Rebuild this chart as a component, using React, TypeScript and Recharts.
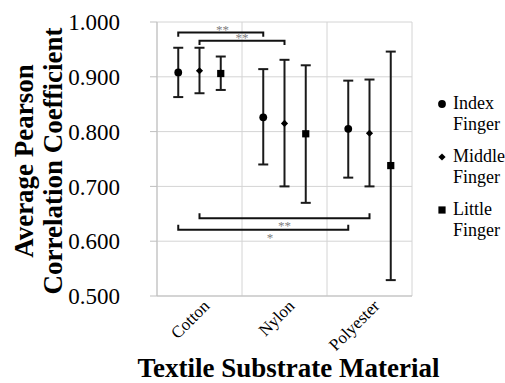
import { ScatterChart, Scatter, XAxis, YAxis, CartesianGrid, ErrorBar, Legend, Label } from 'recharts';

// ─── Data ─────────────────────────────────

const categories = ['Cotton', 'Nylon', 'Polyester'];
const fingers = ['Index Finger', 'Middle Finger', 'Little Finger'];

const indexMean = [0.908, 0.826, 0.805];
const indexLow = [0.863, 0.740, 0.716];
const indexHigh = [0.953, 0.914, 0.893];

const middleMean = [0.911, 0.815, 0.797];
const middleLow = [0.870, 0.700, 0.700];
const middleHigh = [0.953, 0.931, 0.895];

const littleMean = [0.906, 0.796, 0.738];
const littleLow = [0.876, 0.670, 0.529];
const littleHigh = [0.937, 0.921, 0.946];

const yTicks = [0.5, 0.6, 0.7, 0.8, 0.9, 1.0];

// significance brackets (x in category units, 0..3)
const bracketStart = [0.25, 0.5, 0.5, 0.25];
const bracketEnd = [1.25, 1.5, 2.5, 2.25];
const bracketLevel = [0.981, 0.966, 0.642, 0.621];
const bracketTip = [0.973, 0.958, 0.651, 0.63];
const starLabels = ['**', '**', '**', '*'];
const starX = [0.77, 1.0, 1.5, 1.33];
const starY = [0.991, 0.976, 0.634, 0.611];

// ─── Helpers ──────────────────────────────

const groupOffset = [-0.25, 0, 0.25];
const FONT = '"Liberation Serif", "Times New Roman", serif';

function buildSeries(f: number, mean: number[], low: number[], high: number[]) {
  return categories.map((_, i) => ({
    x: i + 0.5 + groupOffset[f],
    y: mean[i],
    err: [mean[i] - low[i], high[i] - mean[i]],
  }));
}

const series = [
  buildSeries(0, indexMean, indexLow, indexHigh),
  buildSeries(1, middleMean, middleLow, middleHigh),
  buildSeries(2, littleMean, littleLow, littleHigh),
];

const brackets = bracketStart.map((s, i) => [
  { x: s, y: bracketTip[i] },
  { x: s, y: bracketLevel[i] },
  { x: bracketEnd[i], y: bracketLevel[i] },
  { x: bracketEnd[i], y: bracketTip[i] },
]);

const stars = starLabels.map((label, i) => ({ x: starX[i], y: starY[i], label }));

// ─── Markers ──────────────────────────────

function Marker({ kind, cx, cy }: { kind: number; cx: number; cy: number }) {
  if (kind === 0) return <circle cx={cx} cy={cy} r={3.9} fill="#000" />;
  if (kind === 1)
    return <polygon points={`${cx},${cy - 3.6} ${cx + 3.6},${cy} ${cx},${cy + 3.6} ${cx - 3.6},${cy}`} fill="#000" />;
  return <rect x={cx - 3.6} y={cy - 3.6} width={7.2} height={7.2} fill="#000" />;
}

function CategoryTick({ x, y, payload }: any) {
  return (
    <text
      transform={`translate(${x + 11}, ${y + 11}) rotate(-45)`}
      textAnchor="end"
      fontSize={17}
      fill="#000"
    >
      {categories[Math.floor(payload.value)]}
    </text>
  );
}

function YTitle({ viewBox }: any) {
  const cy = (viewBox?.y ?? 22) + (viewBox?.height ?? 274) / 2 + 2;
  return (
    <text transform={`translate(0, ${cy}) rotate(-90)`} textAnchor="middle" fontSize={27} fontWeight="bold" fill="#000">
      <tspan x={0} y={33}>Average Pearson</tspan>
      <tspan x={0} y={62}>Correlation Coefficient</tspan>
    </text>
  );
}

function XTitle({ viewBox }: any) {
  const x = (viewBox?.x ?? 157) + (viewBox?.width ?? 255) / 2 + 4;
  const y = (viewBox?.y ?? 296) + 81;
  return (
    <text x={x} y={y} textAnchor="middle" fontSize={27} fontWeight="bold" fill="#000">
      Textile Substrate Material
    </text>
  );
}

function FingerLegend() {
  return (
    <div style={{ fontFamily: FONT, fontSize: 18, lineHeight: '21px', color: '#000' }}>
      {fingers.map((name, k) => {
        const [first, second] = name.split(' ');
        return (
          <div key={name} style={{ display: 'flex', marginBottom: 11 }}>
            <svg width={12} height={21} style={{ flex: 'none' }}>
              <Marker kind={k} cx={6} cy={11} />
            </svg>
            <div style={{ marginLeft: 5 }}>
              {first}
              <br />
              {second}
            </div>
          </div>
        );
      })}
    </div>
  );
}

// ─── Component ────────────────────────────

export default function App() {
  return (
    <div style={{ width: 505, height: 383, background: '#fff', fontFamily: FONT }}>
      <style>{'body{margin:0}'}</style>
      <ScatterChart width={505} height={383} margin={{ top: 22, right: 93, bottom: 0, left: 0 }}>
        <CartesianGrid
          stroke="#d4d4d4"
          verticalValues={[0, 1, 2, 3]}
          horizontalValues={yTicks}
        />
        <XAxis
          type="number"
          dataKey="x"
          domain={[0, 3]}
          ticks={[0.5, 1.5, 2.5]}
          height={87}
          tickLine={false}
          tickSize={0}
          tickMargin={0}
          axisLine={{ stroke: '#bfbfbf' }}
          tick={<CategoryTick />}
          interval={0}
        >
          <Label content={<XTitle />} />
        </XAxis>
        <YAxis
          type="number"
          dataKey="y"
          domain={[0.5, 1]}
          allowDataOverflow
          ticks={yTicks}
          width={157}
          tickSize={7}
          tickMargin={30}
          tickLine={{ stroke: '#bfbfbf' }}
          axisLine={{ stroke: '#bfbfbf' }}
          tick={{ fontSize: 23, fill: '#000' }}
          tickFormatter={(v: number) => v.toFixed(3)}
        >
          <Label content={<YTitle />} />
        </YAxis>
        <Legend
          layout="vertical"
          align="center"
          verticalAlign="middle"
          wrapperStyle={{ left: 436, top: 93, width: 75 }}
          content={<FingerLegend />}
        />
        {series.map((data, f) => (
          <Scatter
            key={fingers[f]}
            name={fingers[f]}
            data={data}
            fill="#000"
            isAnimationActive={false}
            shape={(p: any) => <Marker kind={f} cx={p.cx} cy={p.cy} />}
          >
            <ErrorBar dataKey="err" direction="y" width={5} stroke="#1a1a1a" strokeWidth={2} />
          </Scatter>
        ))}
        {brackets.map((data, i) => (
          <Scatter
            key={`bracket-${i}`}
            data={data}
            line={{ stroke: '#111', strokeWidth: 2 }}
            lineType="joint"
            legendType="none"
            isAnimationActive={false}
            shape={() => <g />}
          />
        ))}
        <Scatter
          data={stars}
          legendType="none"
          isAnimationActive={false}
          shape={(p: any) => (
            <text x={p.cx} y={p.cy + 7} textAnchor="middle" fontSize={13} fill="#808080">
              {p.payload.label}
            </text>
          )}
        />
      </ScatterChart>
    </div>
  );
}
